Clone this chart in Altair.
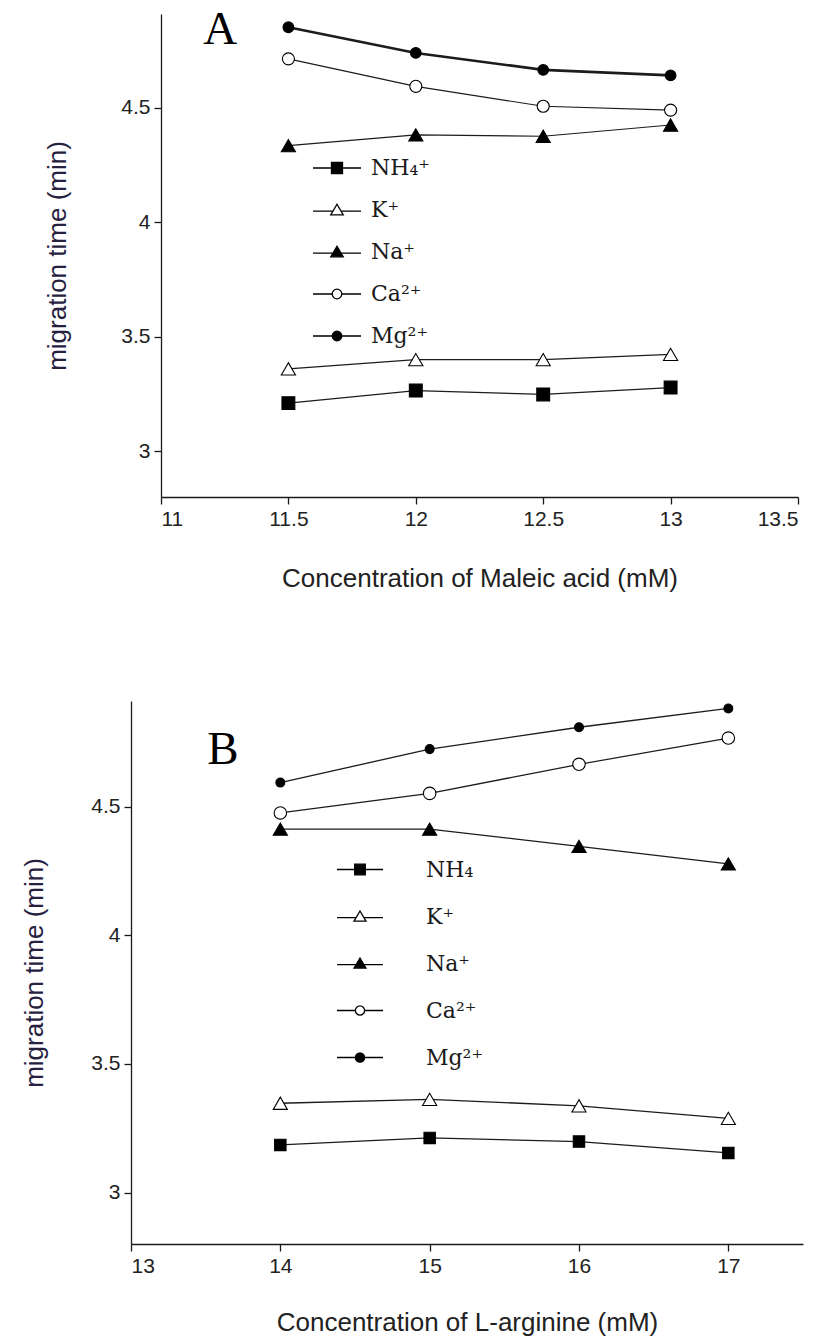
import altair as alt
import pandas as pd

# ---------------- panel A: varying maleic acid ----------------
maleic_mM = [11.5, 12.0, 12.5, 13.0]
ions_a = ["NH₄⁺", "K⁺", "Na⁺", "Ca²⁺", "Mg²⁺"]
a_nh4 = [3.21, 3.265, 3.248, 3.278]
a_k = [3.36, 3.40, 3.40, 3.423]
a_na = [4.335, 4.382, 4.376, 4.425]
a_ca = [4.714, 4.594, 4.507, 4.490]
a_mg = [4.852, 4.740, 4.666, 4.642]

# ---------------- panel B: varying L-arginine ----------------
arginine_mM = [14, 15, 16, 17]
ions_b = ["NH₄", "K⁺", "Na⁺", "Ca²⁺", "Mg²⁺"]
b_nh4 = [3.185, 3.212, 3.198, 3.154]
b_k = [3.347, 3.362, 3.337, 3.288]
b_na = [4.412, 4.412, 4.345, 4.277]
b_ca = [4.475, 4.551, 4.664, 4.766]
b_mg = [4.593, 4.723, 4.808, 4.881]

# axis ticks / domains
y_ticks = [3, 3.5, 4, 4.5]
y_domain = [2.8, 4.91]
x_ticks_a = [11, 11.5, 12, 12.5, 13, 13.5]
x_domain_a = [11, 13.5]
x_ticks_b = [13, 14, 15, 16, 17]
x_domain_b = [13, 17.5]

# panel letters (data coordinates)
letter_a = {"conc": [11.232], "time": [4.84], "label": ["A"]}
letter_b = {"conc": [13.616], "time": [4.72], "label": ["B"]}

# marker styling per ion (same order as the ion lists)
marker_shapes = ["square", "triangle-up", "triangle-up", "circle", "circle"]
marker_fills = ["black", "white", "black", "white", "black"]
marker_strokes = ["black", "black", "black", "black", "black"]
marker_sizes_a = [165, 200, 200, 145, 115]
marker_sizes_b = [130, 200, 200, 155, 80]

# legend keys: a short line with the marker in the middle
key_paths = [
    "M-1,0L-0.23,0M0.23,0L1,0M-0.23,-0.23L0.23,-0.23L0.23,0.23L-0.23,0.23Z",
    "M-1,0.05L-0.17,0.05M0.17,0.05L1,0.05M0,-0.24L0.26,0.2L-0.26,0.2Z",
    "M-1,0.05L-0.17,0.05M0.17,0.05L1,0.05M0,-0.24L0.26,0.2L-0.26,0.2Z",
    "M-1,0L-0.2,0M0.2,0L1,0M-0.2,0A0.2,0.2,0,1,0,0.2,0A0.2,0.2,0,1,0,-0.2,0Z",
    "M-1,0L-0.2,0M0.2,0L1,0M-0.2,0A0.2,0.2,0,1,0,0.2,0A0.2,0.2,0,1,0,-0.2,0Z",
]


def long_table(conc, ions, series):
    rows = []
    for ion, values in zip(ions, series):
        for c, v in zip(conc, values):
            rows.append({"conc": c, "ion": ion, "time": v})
    return pd.DataFrame(rows)


df_a = long_table(maleic_mM, ions_a, [a_nh4, a_k, a_na, a_ca, a_mg])
df_b = long_table(arginine_mM, ions_b, [b_nh4, b_k, b_na, b_ca, b_mg])

# layout of the shared view (pixels)
W, H = 672, 1230
SANS = "Liberation Sans"
SERIF = "Liberation Serif"
LEGEND_SERIF = "DejaVu Serif"
Y_TITLE_COLOR = "#26213f"


def build_panel(df, ions, x_field_title, x_domain, x_ticks, x_range, x_offset,
                y_range, y_offset, y_title_pad, x_title_pad, sizes, thick_ion,
                legend_x, legend_y, label_offset, row_h, key_size, letter):
    x_enc = alt.X(
        "conc:Q",
        title=x_field_title,
        scale=alt.Scale(domain=x_domain, range=x_range, nice=False, zero=False),
        axis=alt.Axis(orient="bottom", offset=x_offset, values=x_ticks, format="~g",
                      titlePadding=x_title_pad),
    )
    y_enc = alt.Y(
        "time:Q",
        title="migration time (min)",
        scale=alt.Scale(domain=y_domain, range=y_range, nice=False, zero=False),
        axis=alt.Axis(orient="left", offset=y_offset, values=y_ticks, format="~g",
                      titlePadding=y_title_pad, titleColor=Y_TITLE_COLOR),
    )
    base = alt.Chart(df)
    width_rule = (
        alt.condition(alt.datum.ion == thick_ion, alt.value(2.6), alt.value(1.2))
        if thick_ion else alt.value(1.3)
    )
    lines = base.mark_line(color="#1c1c1c").encode(
        x=x_enc, y=y_enc, detail="ion:N", strokeWidth=width_rule
    )
    points = base.mark_point(stroke="black", strokeWidth=1.1, opacity=1).encode(
        x=x_enc,
        y=y_enc,
        shape=alt.Shape("ion:N", scale=alt.Scale(domain=ions, range=marker_shapes), legend=None),
        fill=alt.Fill("ion:N", scale=alt.Scale(domain=ions, range=marker_fills), legend=None),
        size=alt.Size("ion:N", scale=alt.Scale(type="ordinal", domain=ions, range=sizes),
                      legend=None),
    )
    leg = alt.Legend(
        orient="none", legendX=legend_x, legendY=legend_y, title=None,
        symbolSize=key_size, symbolStrokeWidth=1.3, symbolStrokeColor="black",
        symbolOpacity=1, labelFont=LEGEND_SERIF, labelFontSize=22, labelColor="#1a1a1a",
        labelOffset=label_offset, clipHeight=row_h, rowPadding=0, padding=0,
    )
    keys = base.mark_point(opacity=0, color="black", stroke="black").encode(
        x=x_enc,
        y=y_enc,
        shape=alt.Shape("ion:N", scale=alt.Scale(domain=ions, range=key_paths), legend=leg),
        fill=alt.Fill("ion:N", scale=alt.Scale(domain=ions, range=marker_fills), legend=leg),
        stroke=alt.Stroke("ion:N", scale=alt.Scale(domain=ions, range=marker_strokes),
                          legend=leg),
    )
    tag = alt.Chart(pd.DataFrame(letter)).mark_text(
        font=SERIF, fontSize=47, color="black", align="center", baseline="middle"
    ).encode(x=x_enc, y=y_enc, text="label:N")
    return alt.layer(lines, points, keys, tag).resolve_scale(
        shape="independent", fill="independent", size="independent", stroke="independent"
    )


panel_a = build_panel(
    df_a, ions_a, "Concentration of Maleic acid (mM)", x_domain_a, x_ticks_a,
    [30, 667], -(H - 483), [483, 0], -30, 50, 36, marker_sizes_a, "Mg²⁺",
    181, 133, 9, 42, 2304, letter_a,
)
panel_b = build_panel(
    df_b, ions_b, "Concentration of L-arginine (mM)", x_domain_b, x_ticks_b,
    [0, W], 0, [H, 687], 0, 43, 33, marker_sizes_b, None,
    205, 832, 42, 47, 2116, letter_b,
)

chart = (
    alt.layer(panel_a, panel_b)
    .resolve_scale(x="independent", y="independent", shape="independent",
                   fill="independent", size="independent", stroke="independent")
    .resolve_axis(x="independent", y="independent")
    .resolve_legend(shape="independent", fill="independent", stroke="independent")
    .properties(
        width=W, height=H,
        autosize=alt.AutoSizeParams(type="none"),
        padding={"left": 131, "top": 14, "right": 16, "bottom": 96},
        background="white",
    )
    .configure_view(stroke=None)
    .configure_axis(
        grid=False, domainColor="#1a1a1a", domainWidth=1.3, tickColor="#1a1a1a",
        tickWidth=1.3, tickSize=7, labelFont=SANS, labelFontSize=21,
        labelColor="#222222", labelPadding=4, titleFont=SANS, titleFontSize=26,
        titleFontWeight="normal", titleColor="#222222",
    )
)

chart.save("out.html", embed_options={"renderer": "svg", "actions": False})
